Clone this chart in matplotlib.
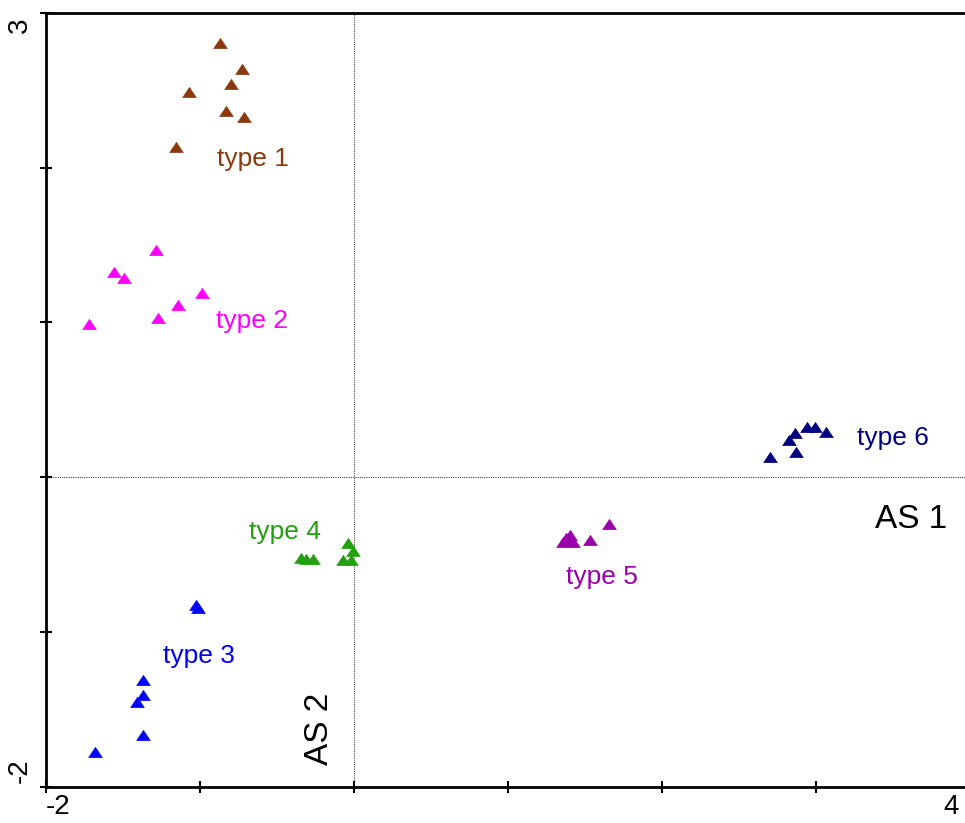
import matplotlib
matplotlib.use("Agg")
import matplotlib.pyplot as plt
from matplotlib.path import Path
from matplotlib.transforms import ScaledTranslation

plt.rcParams['font.family'] = ['Liberation Sans', 'DejaVu Sans']

# Sample scores on the first two axes, grouped by type
type1_x = [-0.870, -0.727, -0.799, -1.071, -0.831, -0.714, -1.156]
type1_y = [2.806, 2.638, 2.541, 2.489, 2.367, 2.328, 2.134]

type2_x = [-1.286, -1.558, -1.494, -0.987, -1.143, -1.273, -1.721]
type2_y = [1.468, 1.326, 1.287, 1.190, 1.113, 1.029, 0.990]

type3_x = [-1.026, -1.013, -1.370, -1.370, -1.409, -1.370, -1.682]
type3_y = [-0.826, -0.845, -1.310, -1.407, -1.452, -1.666, -1.776]

type4_x = [-0.344, -0.312, -0.266, -0.039, -0.006, -0.071, -0.019]
type4_y = [-0.522, -0.529, -0.529, -0.425, -0.477, -0.535, -0.535]

type5_x = [1.656, 1.532, 1.377, 1.403, 1.422, 1.357, 1.390]
type5_y = [-0.302, -0.406, -0.393, -0.373, -0.419, -0.419, -0.400]

type6_x = [2.701, 2.870, 2.825, 2.864, 2.942, 2.994, 3.065]
type6_y = [0.131, 0.163, 0.241, 0.286, 0.325, 0.325, 0.292]

groups = ["type 1", "type 2", "type 3", "type 4", "type 5", "type 6"]
colors = ["#8B3A0E", "#FF00FF", "#0000FF", "#22A010", "#9A00AA", "#000080"]
label_pos = [(-0.890, 2.056), (-0.896, 1.010), (-1.240, -1.155),
             (-0.682, -0.354), (1.377, -0.645), (3.266, 0.253)]

xticks = [-2, -1, 0, 1, 2, 3, 4]
xticklabels = ["-2", "", "", "", "", "", "4"]
yticks = [-2, -1, 0, 1, 2, 3]
yticklabels = ["-2", "", "", "", "", "3"]

# flattened triangle marker
tri = Path([(0, 0.75), (-1, -0.75), (1, -0.75), (0, 0.75)],
           [Path.MOVETO, Path.LINETO, Path.LINETO, Path.CLOSEPOLY])

fig = plt.figure(figsize=(9.65, 8.23), dpi=100)
ax = fig.add_axes([0.0477, 0.0441, 0.957, 0.9401])

data = [(type1_x, type1_y), (type2_x, type2_y), (type3_x, type3_y),
        (type4_x, type4_y), (type5_x, type5_y), (type6_x, type6_y)]
for (xs, ys), c in zip(data, colors):
    ax.scatter(xs, ys, marker=tri, s=95, color=c, edgecolors=c,
               linewidths=0.5, zorder=3)

for name, c, (lx, ly) in zip(groups, colors, label_pos):
    ax.text(lx, ly, name, color=c, fontsize=19, ha='left', va='center')

ax.text(3.383, -0.270, "AS 1", fontsize=24, ha='left', va='center')
ax.text(-0.221, -1.860, "AS 2", fontsize=24, rotation=90,
        ha='center', va='bottom')

ax.axhline(0, color='#444444', lw=0.8, ls=(0, (1, 1)), zorder=1)
ax.axvline(0, color='#444444', lw=0.8, ls=(0, (1, 1)), zorder=1)

ax.set_xlim(-2, 4)
ax.set_ylim(-2, 3)
ax.set_xticks(xticks)
ax.set_xticklabels(xticklabels)
ax.set_yticks(yticks)
ax.set_yticklabels(yticklabels)

ax.tick_params(direction='inout', length=9, width=1.5, labelsize=20)
ax.tick_params(axis='x', pad=1)
ax.tick_params(axis='y', labelrotation=90, pad=5)

xl = ax.get_xticklabels()
xl[0].set_ha('left')
xl[-1].set_ha('right')
xl[-1].set_transform(xl[-1].get_transform() +
                     ScaledTranslation(-8 / 72, 0, fig.dpi_scale_trans))
yl = ax.get_yticklabels()
yl[0].set_va('bottom')
yl[0].set_transform(yl[0].get_transform() +
                    ScaledTranslation(0, 3 / 72, fig.dpi_scale_trans))
yl[-1].set_va('top')
yl[-1].set_transform(yl[-1].get_transform() +
                     ScaledTranslation(0, -3 / 72, fig.dpi_scale_trans))

for side in ['left', 'bottom', 'top', 'right']:
    ax.spines[side].set_linewidth(2)

fig.savefig("out.png", dpi=100)
